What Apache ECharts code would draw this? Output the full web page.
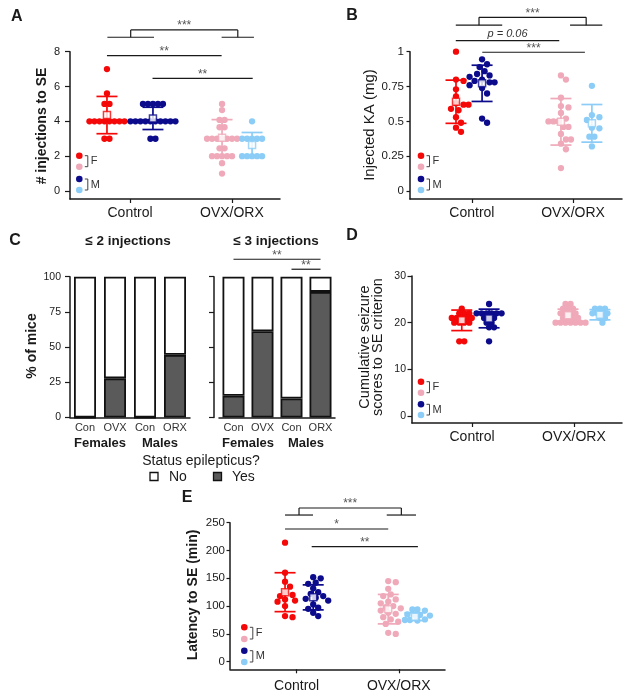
<!DOCTYPE html>
<html>
<head>
<meta charset="utf-8">
<title>Injections to SE</title>
<script src="https://cdn.jsdelivr.net/npm/echarts@6/dist/echarts.min.js"></script>
<style>html,body{margin:0;padding:0;background:#fff}#main{width:629px;height:700px}</style>
</head>
<body>
<div id="main"></div>
<script>
var FONT = '"Liberation Sans", Arial, sans-serif';
var INK = '#1a1a1a';
// red = F control, pink = F OVX, navy = M control, light blue = M ORX
var COLORS = ['#f50808', '#0b0b8c', '#efa9b9', '#8bcdf7'];
var GROUPS = ['Control', 'OVX/ORX'];

// A: # injections to SE
var injFCon = [7, 5.6, 5, 5, 4, 4, 4, 4, 4, 4, 4, 4, 3, 3];
var injMCon = [5, 5, 5, 5, 5, 4, 4, 4, 4, 4, 4, 4, 4, 4, 4, 3, 3];
var injFOvx = [5, 4.65, 4.08, 4.08, 3.66, 3.66, 3, 3, 3, 3, 3, 3, 3, 2.45, 2.45, 2, 2, 2, 2, 2, 1.6, 1];
var injMOrx = [4, 3, 3, 3, 3, 3, 2, 2, 2, 2, 2];
var meanA = [4.36, 4.17, 3.06, 2.64];
var sdA = [1.07, 0.64, 1.04, 0.72];

// B: injected KA (mg)
var kaFCon = [1.0, 0.80, 0.79, 0.73, 0.68, 0.63, 0.62, 0.62, 0.59, 0.58, 0.53, 0.49, 0.455, 0.425];
var kaMCon = [0.945, 0.91, 0.89, 0.86, 0.84, 0.83, 0.82, 0.8, 0.79, 0.78, 0.78, 0.76, 0.74, 0.7, 0.52, 0.49];
var kaFOvx = [0.83, 0.80, 0.67, 0.61, 0.60, 0.56, 0.52, 0.50, 0.50, 0.50, 0.46, 0.46, 0.41, 0.37, 0.37, 0.34, 0.30, 0.165];
var kaMOrx = [0.755, 0.545, 0.53, 0.51, 0.455, 0.45, 0.39, 0.39, 0.32];
var meanB = [0.641, 0.773, 0.497, 0.486];
var sdB = [0.155, 0.13, 0.167, 0.135];

// C: % of mice in SE
var cCats = ['Con', 'OVX', 'Con', 'ORX'];
var cSex = ['Females', 'Males'];
var yes2 = [0, 27.8, 0, 44.5];
var no2 = [100, 72.2, 100, 55.5];
var yes3 = [15.4, 61.3, 13.5, 89.2];
var no3 = [84.6, 38.7, 86.5, 10.8];

// D: cumulative seizure scores
var szFCon = [23, 22, 22, 22, 21, 21, 21, 21, 21, 20, 20, 20, 20, 16, 16];
var szMCon = [24, 22, 22, 22, 22, 22, 22, 21, 21, 21, 20, 20, 19, 19, 16];
var szFOvx = [24, 24, 23, 23, 23, 22, 22, 22, 22, 21, 21, 21, 21, 20, 20, 20, 20, 20, 20, 20];
var szMOrx = [23, 23, 23, 22, 22, 22, 22, 21, 21, 20];
var meanD = [20.5, 20.9, 21.6, 21.7];
var sdD = [2.2, 2.0, 1.3, 1.1];

// E: latency to SE (min)
var latFCon = [214, 160, 144, 135, 125, 120, 118, 112, 110, 108, 100, 82, 80];
var latMCon = [152, 150, 142, 140, 132, 125, 122, 118, 115, 113, 110, 103, 97, 95, 88, 82];
var latFOvx = [145, 143, 131, 121, 118, 112, 108, 105, 100, 98, 96, 92, 88, 86, 80, 76, 72, 68, 52, 50];
var latMOrx = [94, 94, 92, 85, 84, 84, 83, 76, 75, 75, 74];
var meanE = [125, 115.7, 94.5, 81];
var sdE = [35, 22.5, 26.5, 7];

var sigA = [
    {text: '***', left: [17.8, 40], right: [72.2, 87.6], y: 8.83, top: 9.25},
    {text: '**', x: [17.6, 72.2], y: 7.77},
    {text: '**', x: [39.3, 87.0], y: 6.47}
];
var sigB = [
    {text: '***', left: [21.6, 43.5], right: [75.5, 90.7], y: 1.19, top: 1.247},
    {text: 'p = 0.06', italic: true, x: [21.6, 70.4], y: 1.079},
    {text: '***', x: [34.1, 82.5], y: 0.996}
];
var sigC = [
    {text: '**', x: [0, 3], y: 112.4},
    {text: '**', x: [2, 3], y: 105.3}
];
var sigE = [
    {text: '***', left: [25.6, 38.6], right: [72.9, 86.5], y: 263.8, top: 276.4},
    {text: '*', x: [25.6, 73.6], y: 238.7},
    {text: '**', x: [38.0, 87.4], y: 206.8}
];

var DOT_STEP = 5;

// spread points sideways so they don't sit on top of each other (px offsets)
function swarm(vals, pxY, d, gap) {
    var placed = [], out = [];
    var keys = vals.filter(function (v, i) { return vals.indexOf(v) === i; }).sort(function (a, b) { return b - a; });
    keys.forEach(function (v) {
        var idx = [];
        vals.forEach(function (u, i) { if (u === v) idx.push(i); });
        var n = idx.length, y = v * pxY, shift = 0;
        for (var k = 0; k < 60; k++) {
            var s = (k % 2 ? 1 : -1) * Math.ceil(k / 2) * d / 2;
            var ok = idx.every(function (_, j) {
                var x = s + (j - (n - 1) / 2) * d;
                return placed.every(function (p) {
                    return (x - p.x) * (x - p.x) + (y - p.y) * (y - p.y) >= gap * gap;
                });
            });
            if (ok) { shift = s; break; }
        }
        idx.forEach(function (i, j) {
            var x = shift + (j - (n - 1) / 2) * d;
            out[i] = x;
            placed.push({x: x, y: y});
        });
    });
    return out;
}

var panels = [
    {grid: {left: 70, top: 51.7, width: 210, height: 147.3}, yMin: -0.46, yMax: 8, ticks: [0, 2, 4, 6, 8],
     tickSize: 11, tickMargin: 10, tickLen: 5, xMargin: 7, gap: 4.3,
     data: [injFCon, injMCon, injFOvx, injMOrx], mean: meanA, sd: sdA,
     pos: [17.6, 39.5, 72.4, 86.7], center: [28.6, 77.1], sig: sigA},
    {grid: {left: 410, top: 51.7, width: 212, height: 147.3}, yMin: -0.057, yMax: 1, ticks: [0, 0.25, 0.5, 0.75, 1],
     tickSize: 11.5, tickMargin: 6, tickLen: 3.5, xMargin: 7, gap: 6.4,
     data: [kaFCon, kaMCon, kaFOvx, kaMOrx], mean: meanB, sd: sdB,
     pos: [21.7, 34.0, 71.2, 85.8], center: [29.2, 76.9], sig: sigB},
    {grid: {left: 412, top: 276, width: 210, height: 147}, yMin: -1.5, yMax: 30, ticks: [0, 10, 20, 30],
     tickSize: 10.5, tickMargin: 6, tickLen: 4.5, xMargin: 7, gap: 5.2,
     data: [szFCon, szMCon, szFOvx, szMOrx], mean: meanD, sd: sdD,
     pos: [23.7, 36.7, 74.3, 89.5], center: [28.6, 77.1], sig: null},
    {grid: {left: 230, top: 522.7, width: 215, height: 146.6}, yMin: -13.7, yMax: 250, ticks: [0, 50, 100, 150, 200, 250],
     tickSize: 11.5, tickMargin: 5, tickLen: 3.5, xMargin: 10, gap: 6.0,
     data: [latFCon, latMCon, latFOvx, latMOrx], mean: meanE, sd: sdE,
     pos: [25.6, 38.7, 73.6, 86.0], center: [31.0, 78.5], sig: sigE}
];

var grids = [], xAxes = [], yAxes = [], series = [];
var axisLine = {show: true, onZero: false, lineStyle: {color: INK, width: 1.5}};

function sigSeries(xi, yi, specs) {
    return {
        type: 'custom', xAxisIndex: xi, yAxisIndex: yi, silent: true, clip: false, z: 6,
        data: specs.map(function () { return [0, 0]; }),
        renderItem: function (params, api) {
            var s = specs[params.dataIndex], kids = [], tx, ty;
            function ln(a, b) {
                kids.push({type: 'line', shape: {x1: a[0], y1: a[1], x2: b[0], y2: b[1]},
                    style: {stroke: INK, lineWidth: 1.2}});
            }
            if (s.left) {
                var l1 = api.coord([s.left[0], s.y]), l2 = api.coord([s.left[1], s.y]);
                var r1 = api.coord([s.right[0], s.y]), r2 = api.coord([s.right[1], s.y]);
                var top = api.coord([s.left[0], s.top])[1];
                var lm = (l1[0] + l2[0]) / 2, rm = (r1[0] + r2[0]) / 2;
                ln(l1, l2); ln(r1, r2);
                ln([lm, l1[1]], [lm, top]); ln([lm, top], [rm, top]); ln([rm, top], [rm, r1[1]]);
                tx = (lm + rm) / 2; ty = top;
            } else {
                var a = api.coord([s.x[0], s.y]), b = api.coord([s.x[1], s.y]);
                ln(a, b);
                tx = (a[0] + b[0]) / 2; ty = a[1];
            }
            kids.push({type: 'text', style: {text: s.text, x: tx, y: ty - (s.italic ? 6.5 : 4),
                align: 'center', verticalAlign: 'middle', fill: s.italic ? '#333' : '#555',
                fontSize: s.italic ? 11 : 12, fontStyle: s.italic ? 'italic' : 'normal', fontFamily: FONT}});
            return {type: 'group', children: kids};
        }
    };
}

panels.forEach(function (p) {
    var gi = grids.length;
    grids.push(p.grid);
    xAxes.push({
        gridIndex: gi, type: 'value', min: 0, max: 100, axisLine: axisLine,
        axisTick: {show: true, customValues: p.center, length: 4, lineStyle: {color: INK, width: 1.2}},
        axisLabel: {customValues: p.center, formatter: function (v) { return v < 50 ? GROUPS[0] : GROUPS[1]; },
            fontFamily: FONT, fontSize: 14, color: INK, margin: p.xMargin},
        splitLine: {show: false}
    });
    yAxes.push({
        gridIndex: gi, type: 'value', min: p.yMin, max: p.yMax, axisLine: axisLine,
        axisTick: {show: true, customValues: p.ticks, length: p.tickLen, lineStyle: {color: INK, width: 1.2}},
        axisLabel: {customValues: p.ticks, fontFamily: FONT, fontSize: p.tickSize, color: INK, margin: p.tickMargin},
        splitLine: {show: false}
    });
    var pxX = p.grid.width / 100, pxY = p.grid.height / (p.yMax - p.yMin);
    p.data.forEach(function (vals, k) {
        var offs = swarm(vals, pxY, DOT_STEP, p.gap);
        series.push({
            type: 'scatter', xAxisIndex: gi, yAxisIndex: gi, silent: true, z: 2,
            symbolSize: 6.3, itemStyle: {color: COLORS[k], opacity: 1},
            data: vals.map(function (v, i) { return [p.pos[k] + offs[i] / pxX, v]; })
        });
    });
    series.push({
        type: 'custom', xAxisIndex: gi, yAxisIndex: gi, silent: true, z: 3,
        encode: {x: 0, y: 1},
        data: p.mean.map(function (m, k) { return [p.pos[k], m, p.sd[k]]; }),
        renderItem: function (params, api) {
            var x = api.value(0), m = api.value(1), s = api.value(2);
            var t = api.coord([x, m + s]), b = api.coord([x, m - s]);
            var st = {stroke: COLORS[params.dataIndex], lineWidth: 1.7};
            var w = 10.5;
            return {type: 'group', children: [
                {type: 'line', shape: {x1: t[0], y1: t[1], x2: b[0], y2: b[1]}, style: st},
                {type: 'line', shape: {x1: t[0] - w, y1: t[1], x2: t[0] + w, y2: t[1]}, style: st},
                {type: 'line', shape: {x1: b[0] - w, y1: b[1], x2: b[0] + w, y2: b[1]}, style: st}
            ]};
        }
    });
    series.push({
        type: 'scatter', xAxisIndex: gi, yAxisIndex: gi, silent: true, z: 4,
        symbol: 'rect', symbolSize: 7,
        data: p.mean.map(function (m, k) {
            return {value: [p.pos[k], m], itemStyle: {color: '#fff', borderColor: COLORS[k], borderWidth: 1.5}};
        })
    });
    if (p.sig) series.push(sigSeries(gi, gi, p.sig));
});

// C: two stacked bar charts
function barPanel(grid, yes, no, showLabels, yOffset, sig) {
    var gi = grids.length;
    grids.push(grid);
    var xi = xAxes.length;
    xAxes.push({
        gridIndex: gi, type: 'category', data: cCats, axisLine: axisLine, axisTick: {show: false},
        axisLabel: {interval: 0, fontFamily: FONT, fontSize: 11, color: '#333', margin: 5}
    });
    xAxes.push({
        gridIndex: gi, type: 'category', data: cSex, position: 'bottom', offset: 14,
        axisLine: {show: false}, axisTick: {show: false},
        axisLabel: {interval: 0, fontFamily: FONT, fontSize: 13, fontWeight: 'bold', color: INK, margin: 5}
    });
    var yi = yAxes.length;
    yAxes.push({
        gridIndex: gi, type: 'value', min: 0, max: 100, interval: 25, offset: yOffset, axisLine: axisLine,
        axisTick: {show: true, length: 5, lineStyle: {color: INK, width: 1.2}},
        axisLabel: {show: showLabels, fontFamily: FONT, fontSize: 10.5, color: INK, margin: 9},
        splitLine: {show: false}
    });
    var bs = {borderColor: '#111', borderWidth: 1.8};
    series.push({type: 'bar', xAxisIndex: xi, yAxisIndex: yi, stack: 's' + gi, barWidth: 22, silent: true,
        itemStyle: Object.assign({color: '#5a5a5a'}, bs), data: yes});
    series.push({type: 'bar', xAxisIndex: xi, yAxisIndex: yi, stack: 's' + gi, barWidth: 22, silent: true,
        itemStyle: Object.assign({color: '#fff'}, bs), data: no});
    if (sig) series.push(sigSeries(xi, yi, sig));
}
barPanel({left: 70, top: 276.7, width: 120, height: 140.8}, yes2, no2, true, 0, null);
barPanel({left: 219, top: 276.7, width: 116, height: 140.8}, yes3, no3, false, 5, sigC);

function txt(s, x, y, size, opts) {
    opts = opts || {};
    return {type: 'text', x: x, y: y, rotation: opts.rot || 0, silent: true,
        style: {text: s, x: 0, y: 0, align: opts.align || 'center', verticalAlign: 'middle',
            fontSize: size, fontWeight: opts.bold ? 'bold' : 'normal', fontStyle: opts.italic ? 'italic' : 'normal',
            fontFamily: FONT, fill: opts.color || INK}};
}

// F / M colour key inside each scatter panel
function key(x, ys) {
    var els = [];
    ys.forEach(function (y, k) {
        var col = [COLORS[0], COLORS[2], COLORS[1], COLORS[3]][k];
        els.push({type: 'circle', silent: true, shape: {cx: x, cy: y, r: 3.3}, style: {fill: col}});
    });
    [[ys[0], ys[1], 'F'], [ys[2], ys[3], 'M']].forEach(function (b) {
        els.push({type: 'polyline', silent: true,
            shape: {points: [[x + 5.5, b[0]], [x + 8.5, b[0]], [x + 8.5, b[1]], [x + 5.5, b[1]]]},
            style: {stroke: '#444', lineWidth: 1, fill: null}});
        els.push(txt(b[2], x + 11.5, (b[0] + b[1]) / 2, 11, {align: 'left', color: '#333'}));
    });
    return els;
}

var R = Math.PI / 2;
var graphics = [
    txt('A', 16.7, 17, 16, {bold: true}),
    txt('B', 352, 16, 16, {bold: true}),
    txt('C', 15, 241, 16, {bold: true}),
    txt('D', 352, 236, 16, {bold: true}),
    txt('E', 187, 498, 16, {bold: true}),
    txt('# injections to SE', 41.7, 126, 14, {bold: true, rot: R}),
    txt('Injected KA (mg)', 370, 125, 15, {rot: R}),
    txt('% of mice', 32, 346, 14, {bold: true, rot: R}),
    txt('Cumulative seizure', 365, 347, 14.5, {rot: R}),
    txt('scores to SE criterion', 378, 347, 14.5, {rot: R}),
    txt('Latency to SE (min)', 193, 595, 14, {bold: true, rot: R}),
    txt('\u2264 2 injections', 128, 241, 13.5, {bold: true}),
    txt('\u2264 3 injections', 276, 241, 13.5, {bold: true}),
    txt('Status epilepticus?', 201, 461, 14),
    {type: 'rect', silent: true, shape: {x: 150, y: 472.5, width: 8, height: 8}, style: {fill: '#fff', stroke: '#111', lineWidth: 1.3}},
    txt('No', 169, 477, 14, {align: 'left'}),
    {type: 'rect', silent: true, shape: {x: 213.5, y: 472.5, width: 8, height: 8}, style: {fill: '#5a5a5a', stroke: '#111', lineWidth: 1.3}},
    txt('Yes', 232, 477, 14, {align: 'left'})
].concat(key(79.3, [155.7, 166.7, 179, 190]))
 .concat(key(421, [155.7, 166.7, 179, 190]))
 .concat(key(421, [381.7, 392.7, 404.3, 415]))
 .concat(key(244.3, [627.3, 639, 650.7, 662]));

var chart = echarts.init(document.getElementById('main'), null, {renderer: 'canvas'});
chart.setOption({
    animation: false,
    backgroundColor: '#fff',
    grid: grids,
    xAxis: xAxes,
    yAxis: yAxes,
    series: series,
    graphic: graphics
});
</script>
</body>
</html>
